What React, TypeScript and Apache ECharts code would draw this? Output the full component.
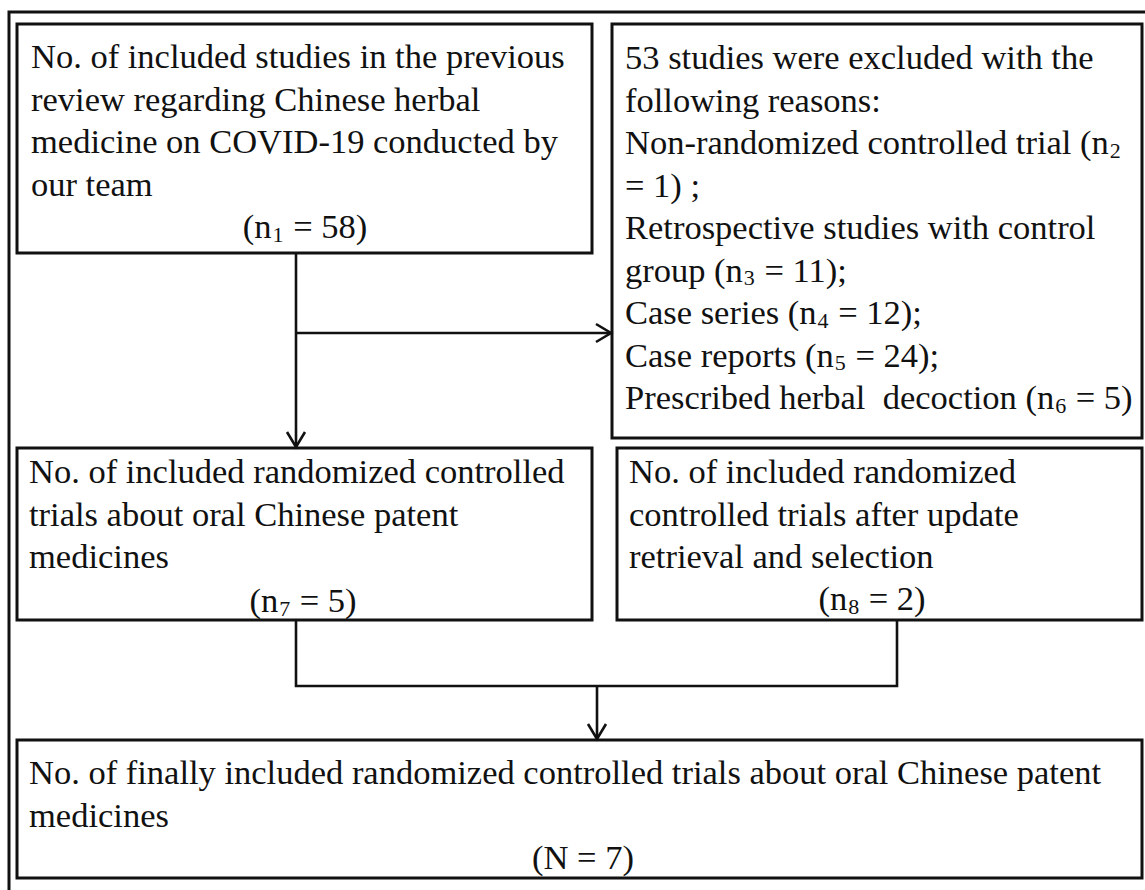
import React, { useEffect, useRef } from "react";
import * as echarts from "echarts";

// ---- content ----
const box1Lines = [
  "No. of included studies in the previous",
  "review regarding Chinese herbal",
  "medicine on COVID-19 conducted by",
  "our team",
];
const box1Count = "(n{sub|1} = 58)";

const box2Lines = [
  "53 studies were excluded with the",
  "following reasons:",
  "Non-randomized controlled trial (n{sub|2}",
  "= 1) ;",
  "Retrospective studies with control",
  "group (n{sub|3} = 11);",
  "Case series (n{sub|4} = 12);",
  "Case reports (n{sub|5} = 24);",
  "Prescribed herbal  decoction (n{sub|6} = 5)",
];

const box3Lines = [
  "No. of included randomized controlled",
  "trials about oral Chinese patent",
  "medicines",
];
const box3Count = "(n{sub|7} = 5)";

const box4Lines = [
  "No. of included randomized",
  "controlled trials after update",
  "retrieval and selection",
];
const box4Count = "(n{sub|8} = 2)";

const box5Lines = [
  "No. of finally included randomized controlled trials about oral Chinese patent",
  "medicines",
];
const box5Count = "(N = 7)";

const FONT = "'Liberation Serif', 'Times New Roman', serif";
const FS = 34.5;
const LH = 42.5;
const INK = "#111";

function txt(text: string, x: number, y: number, align: string = "left") {
  return {
    type: "text",
    x,
    y,
    silent: true,
    style: {
      text,
      fill: INK,
      fontFamily: FONT,
      fontSize: FS,
      align,
      textAlign: align,
      verticalAlign: "middle",
      textVerticalAlign: "middle",
      lineHeight: 40,
      rich: {
        sub: {
          fontFamily: FONT,
          fontSize: 22,
          fill: INK,
          lineHeight: 40,
          padding: [16, 1, 0, 1],
        },
      },
    },
  };
}

function box(x: number, y: number, w: number, h: number) {
  return {
    type: "rect",
    silent: true,
    shape: { x, y, width: w, height: h },
    style: { fill: "none", stroke: INK, lineWidth: 3 },
  };
}

function line(points: number[][], lw = 2.6) {
  return {
    type: "polyline",
    silent: true,
    shape: { points },
    style: { fill: "none", stroke: INK, lineWidth: lw, lineJoin: "miter" },
  };
}

export default function App() {
  const ref = useRef<HTMLDivElement>(null);

  useEffect(() => {
    document.body.style.margin = "0";
    const chart = echarts.init(ref.current!, null, { renderer: "svg" });
    const els: any[] = [];

    // outer frame (cut by the picture edge on right/bottom)
    els.push({
      type: "rect",
      silent: true,
      shape: { x: 9, y: 12, width: 1160, height: 920 },
      style: { fill: "none", stroke: INK, lineWidth: 3 },
    });

    // boxes
    els.push(box(17, 24, 575, 229));
    els.push(box(612, 24, 530, 414));
    els.push(box(17, 448, 575, 172));
    els.push(box(617, 448, 525, 172));
    els.push(box(17, 740, 1125, 138));

    // box texts
    box1Lines.forEach((t, i) => els.push(txt(t, 31, 56 + i * LH)));
    els.push(txt(box1Count, 305, 56 + 4 * LH, "center"));

    box2Lines.forEach((t, i) => els.push(txt(t, 625, 57 + i * LH)));

    box3Lines.forEach((t, i) => els.push(txt(t, 29, 471 + i * LH)));
    els.push(txt(box3Count, 303, 600, "center"));

    box4Lines.forEach((t, i) => els.push(txt(t, 629, 471 + i * LH)));
    els.push(txt(box4Count, 872, 598, "center"));

    box5Lines.forEach((t, i) => els.push(txt(t, 29, 772 + i * LH)));
    els.push(txt(box5Count, 583, 772 + 2 * LH, "center"));

    // connectors
    els.push(line([[296, 254], [296, 447]]));
    els.push(line([[287, 432], [296, 447], [305, 432]]));
    els.push(line([[296, 333], [611, 333]]));
    els.push(line([[596, 324], [611, 333], [596, 342]]));
    els.push(line([[296, 620], [296, 686], [897, 686], [897, 620]]));
    els.push(line([[597, 686], [597, 739]]));
    els.push(line([[588, 724], [597, 739], [606, 724]]));

    chart.setOption({
      animation: false,
      backgroundColor: "#ffffff",
      graphic: { elements: els },
    });
    return () => chart.dispose();
  }, []);

  return (
    <div
      ref={ref}
      style={{ position: "absolute", left: 0, top: 0, width: 1145, height: 890 }}
    />
  );
}
